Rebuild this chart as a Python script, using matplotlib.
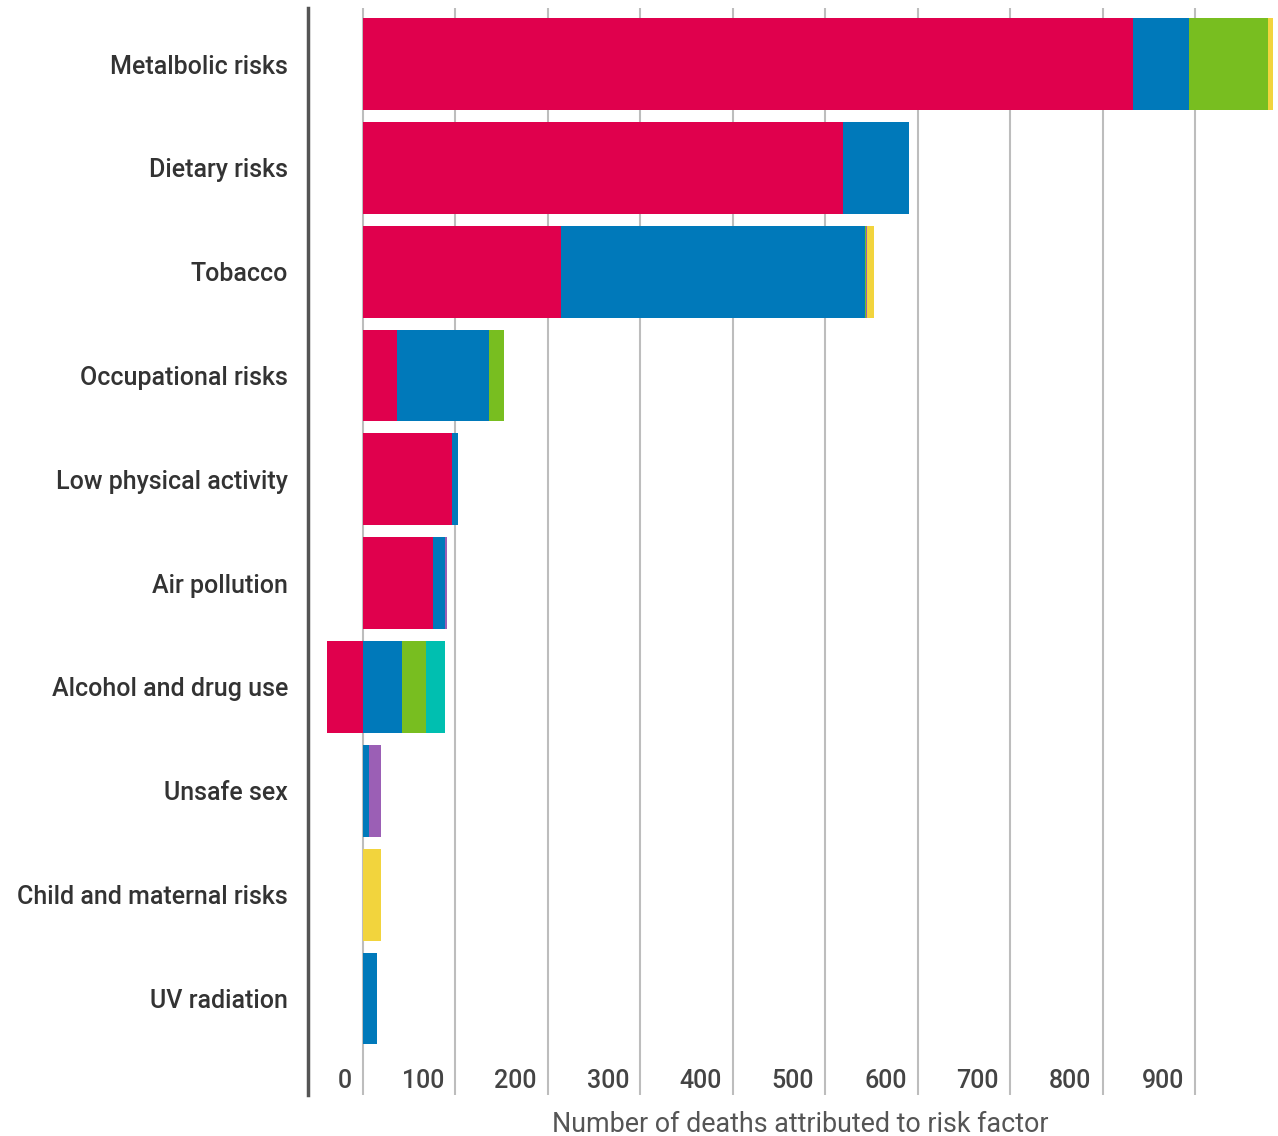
import matplotlib
matplotlib.use("Agg")
import matplotlib.pyplot as plt
from matplotlib.transforms import ScaledTranslation
import numpy as np

plt.rcParams['font.family'] = ['Roboto', 'DejaVu Sans']

categories = ["Metalbolic risks", "Dietary risks", "Tobacco", "Occupational risks",
              "Low physical activity", "Air pollution", "Alcohol and drug use",
              "Unsafe sex", "Child and maternal risks", "UV radiation"]

# deaths by cause group (stacked segments)
cardiovascular = [833, 519, 214, 37, 96, 76, -39, 0, 0, 0]
cancers        = [60, 72, 329, 99, 7, 13, 42, 7, 0, 15]
diabetes_kidney = [86, 0, 1, 17, 0, 0, 26, 0, 0, 0]
infections     = [0, 0, 1, 0, 0, 2, 0, 12, 0, 0]
other          = [5, 0, 8, 0, 0, 0, 0, 0, 19.5, 0]
mental_substance = [0, 0, 0, 0, 0, 0, 21, 0, 0, 0]

series = [
    (cardiovascular, "#E0004D"),
    (cancers, "#0079BA"),
    (diabetes_kidney, "#78BE20"),
    (infections, "#9B5FB5"),
    (other, "#F2D43D"),
    (mental_substance, "#00BFB0"),
]
xticks = [0, 100, 200, 300, 400, 500, 600, 700, 800, 900]

fig = plt.figure(figsize=(12.78, 11.36), dpi=100)
ax = fig.add_axes([308/1278, 1 - 1095/1136, 1 - 308/1278, (1095-8)/1136])

y = np.arange(len(categories))
pos = np.zeros(len(categories))
neg = np.zeros(len(categories))
for vals, col in series:
    vals = np.array(vals, dtype=float)
    left = np.where(vals >= 0, pos, neg + vals)
    ax.barh(y, np.abs(vals), left=left, height=0.885, color=col, zorder=3, linewidth=0)
    pos = pos + np.where(vals > 0, vals, 0)
    neg = neg + np.where(vals < 0, vals, 0)

ax.set_xlim(-59.5, 989.8)
ax.set_ylim(9.93, -0.54)
ax.set_yticks(y)
ax.set_yticklabels(categories, fontweight='medium')
ax.tick_params(axis='y', length=0, pad=14.4, labelsize=18, labelcolor="#333333")

ax.set_xticks(xticks)
ax.set_xticklabels([str(t) for t in xticks], fontweight='medium')
ax.tick_params(axis='x', length=0, pad=-19, labelsize=18, labelcolor="#444444")
off = ScaledTranslation(-11/100, 0, fig.dpi_scale_trans)
for lab in ax.get_xticklabels():
    lab.set_ha('right')
    lab.set_transform(lab.get_transform() + off)

ax.grid(axis='x', color="#bdbdbd", linewidth=1.5, zorder=0)
ax.grid(axis='y', visible=False)
for s in ["top", "right", "bottom"]:
    ax.spines[s].set_visible(False)
ax.spines["left"].set_color("#555555")
ax.spines["left"].set_linewidth(2.5)

fig.text(800/1278, 1 - 1124/1136, "Number of deaths attributed to risk factor",
         ha='center', va='center', fontsize=19.4, color="#555555")

fig.savefig("out.png", dpi=100)
